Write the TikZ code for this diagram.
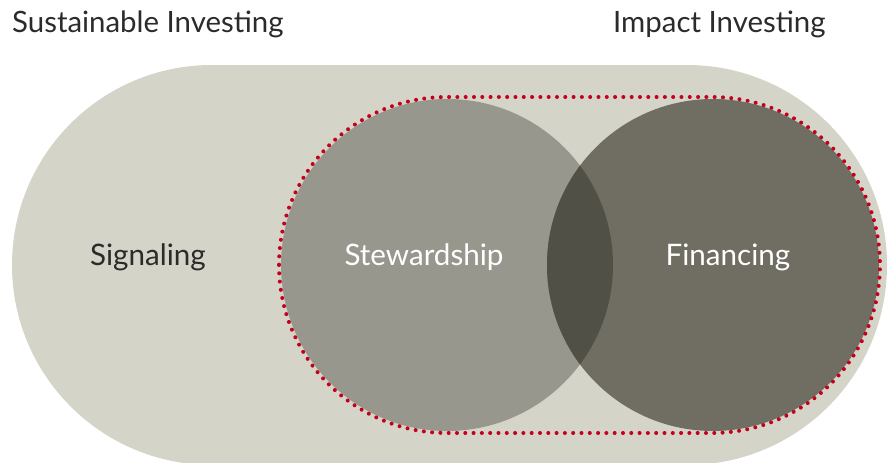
\documentclass[tikz,border=0pt]{standalone}
\usepackage{fontspec}
\setmainfont{Lato}
\usetikzlibrary{positioning}

\definecolor{shell}{HTML}{D5D4C9}
\definecolor{stewfill}{HTML}{98978E}
\definecolor{finfill}{HTML}{706E62}
\definecolor{lensfill}{HTML}{515046}
\definecolor{dotred}{HTML}{C4001A}
\definecolor{darktext}{HTML}{2B2B2B}

\tikzset{
  heading/.style={anchor=base west,inner sep=0pt,text=darktext,
    font=\fontsize{29.4}{34}\selectfont},
  areatext/.style={anchor=base,inner sep=0pt,
    font=\fontsize{29.6}{34}\selectfont},
  disc/.style={circle,inner sep=0pt,minimum size=332pt},
  dotline/.style={draw=dotred,line width=4pt,line cap=round,
    dash pattern=on 0pt off 8.3pt}
}

\begin{document}
\begin{tikzpicture}[x=1pt,y=-1pt]
\useasboundingbox (0,0) rectangle (887,463);
% outer band
\coordinate (tl) at (212,65);
\coordinate (br) at (212,465);
\fill[shell] (tl) -- (687,65) arc[start angle=90,end angle=-90,radius=200pt]
  -- (br) arc[start angle=270,end angle=90,radius=200pt] -- cycle;
% the two circles and their overlap
\node[disc,fill=stewfill] (stew) at (447,265) {};
\node[disc,fill=finfill] (fin) at (713,265) {};
\begin{scope}
  \clip (stew.center) circle (166pt);
  \fill[lensfill] (fin.center) circle (166pt);
\end{scope}
% dotted frame round both
\draw[dotline,rounded corners=168pt] (279,97) rectangle (880,433);
\node[heading] (sust) at (12,32) {Sustainable Investing};
\node[heading] (impact) at (613,32) {Impact Investing};
\node[areatext,text=darktext] (sig) at (148,265) {Signaling};
\node[areatext,text=white] (stewtext) at (424,265) {Stewardship};
\node[areatext,text=white] (fintext) at (728,265) {Financing};
\end{tikzpicture}
\end{document}
